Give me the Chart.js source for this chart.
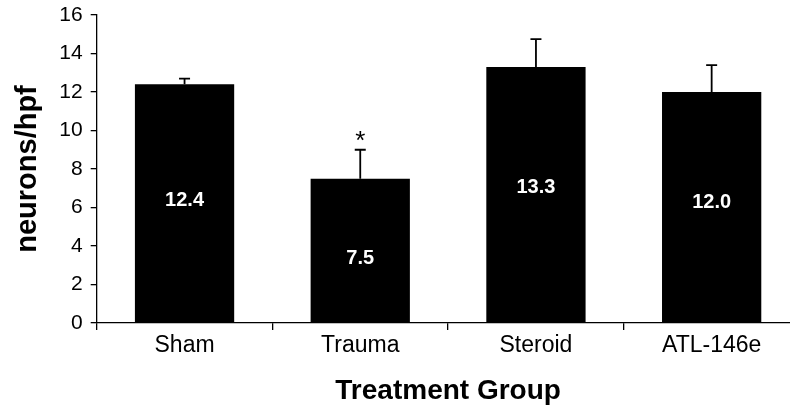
<!DOCTYPE html>
<html>
<head>
<meta charset="utf-8">
<script src="https://cdn.jsdelivr.net/npm/chart.js@4/dist/chart.umd.min.js"></script>
<style>
  html, body { margin: 0; padding: 0; background: #fff; overflow: hidden; }
  #wrap { position: relative; width: 810px; height: 410px; }
</style>
</head>
<body>
<div id="wrap"><canvas id="c"></canvas></div>
<script>
// Neuron counts per high-power field by treatment group
const groups = ['Sham', 'Trauma', 'Steroid', 'ATL-146e'];
const neuronsPerHpf = [12.4, 7.5, 13.3, 12.0];
const errorUpper = [0.3, 1.5, 1.45, 1.4];
const significance = ['', '*', '', ''];
const yTicks = [0, 2, 4, 6, 8, 10, 12, 14, 16];

const FONT = '"Liberation Sans", Arial, Helvetica, sans-serif';

// Draws upper error bars, the value inside each bar and significance marks
const annotate = {
  id: 'annotate',
  afterDatasetsDraw(chart, args, opts) {
    const ctx = chart.ctx;
    const y = chart.scales.y;
    const meta = chart.getDatasetMeta(0);
    meta.data.forEach((bar, i) => {
      const v = neuronsPerHpf[i];
      const top = y.getPixelForValue(v);
      const capY = y.getPixelForValue(v + errorUpper[i]);
      const x = bar.x;
      ctx.save();
      ctx.strokeStyle = '#000';
      ctx.lineWidth = 1.8;
      ctx.beginPath();
      ctx.moveTo(x, top);
      ctx.lineTo(x, capY);
      ctx.moveTo(x - 5.5, capY);
      ctx.lineTo(x + 5.5, capY);
      ctx.stroke();

      // value label
      ctx.fillStyle = '#fff';
      ctx.font = 'bold 20px ' + FONT;
      ctx.textAlign = 'center';
      ctx.textBaseline = 'middle';
      const mid = (top + y.getPixelForValue(0)) / 2 + opts.labelShift[i];
      ctx.fillText(v.toFixed(1), x, mid);

      if (significance[i]) {
        ctx.fillStyle = '#000';
        ctx.font = '26px ' + FONT;
        ctx.textBaseline = 'alphabetic';
        ctx.fillText(significance[i], x, capY - 1);
      }
      ctx.restore();
    });
  }
};

new Chart(document.getElementById('c'), {
  type: 'bar',
  data: {
    labels: groups,
    datasets: [{
      data: neuronsPerHpf,
      backgroundColor: '#000',
      borderWidth: 0,
      barPercentage: 0.565,
      categoryPercentage: 1.0
    }]
  },
  plugins: [annotate],
  options: {
    responsive: true,
    maintainAspectRatio: false,
    animation: false,
    devicePixelRatio: 1,
    layout: { padding: { top: 15, right: 10.5, left: 0, bottom: 0 } },
    plugins: {
      legend: { display: false },
      tooltip: { enabled: false },
      annotate: { labelShift: [-3.5, 7.5, -7.5, -5.5] }
    },
    scales: {
      x: {
        offset: true,
        grid: {
          offset: true,
          drawOnChartArea: false,
          drawTicks: true,
          tickLength: 7,
          color: '#000',
          lineWidth: 1.3
        },
        border: { display: true, color: '#000', width: 1.3 },
        ticks: {
          color: '#000',
          padding: 2,
          font: { family: FONT, size: 23 },
          maxRotation: 0
        },
        title: {
          display: true,
          text: 'Treatment Group',
          color: '#000',
          font: { family: FONT, size: 28, weight: 'bold' },
          padding: { top: 0, bottom: 2 }
        },
        afterFit(scale) { scale.height = 87; }
      },
      y: {
        min: 0,
        max: 16,
        afterBuildTicks(scale) { scale.ticks = yTicks.map(v => ({ value: v })); },
        grid: {
          drawOnChartArea: false,
          drawTicks: true,
          tickLength: 6,
          color: '#000',
          lineWidth: 1.3
        },
        border: { display: true, color: '#000', width: 1.3 },
        ticks: {
          color: '#000',
          padding: 8,
          font: { family: FONT, size: 21 }
        },
        title: {
          display: true,
          text: 'neurons/hpf',
          color: '#000',
          font: { family: FONT, size: 29, weight: 'bold' },
          padding: { top: 11, bottom: 0 }
        },
        afterFit(scale) {
          scale.width = 96.7;
          scale.paddingTop = 0;
          scale.paddingBottom = 0;
        }
      }
    }
  }
});
</script>
</body>
</html>
